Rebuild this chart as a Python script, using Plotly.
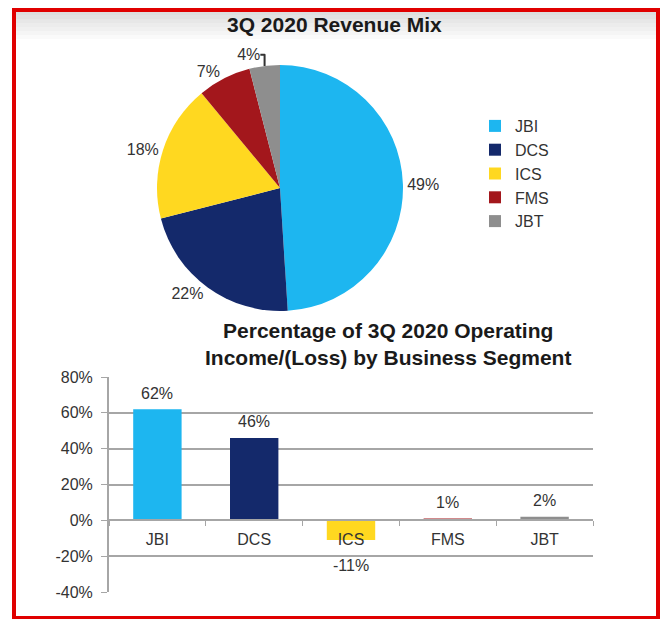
import plotly.graph_objects as go

segments = ["JBI", "DCS", "ICS", "FMS", "JBT"]
revenue_mix = [49, 22, 18, 7, 4]          # % of 3Q 2020 revenue
op_income = [62, 46, -11, 1, 2]           # % of 3Q 2020 operating income/(loss)
y_ticks = [-40, -20, 0, 20, 40, 60, 80]
y_tick_text = [f"{v}%" for v in y_ticks]

colors = ["#1DB6F0", "#14296B", "#FFD820", "#A3171C", "#8E8E8E"]
font_family = "Liberation Sans, Arial, sans-serif"
text_color = "#333333"

# page body adds an 8px margin, so the figure is drawn 16px smaller
OFF = 8
W, H = 669 - 2 * OFF, 627 - 2 * OFF

def px(x):
    return (x - OFF) / W

def py(y):
    return 1 - (y - OFF) / H

fig = go.Figure()

# --- Pie: revenue mix ---
fig.add_trace(go.Pie(
    labels=segments, values=revenue_mix,
    marker=dict(colors=colors),
    sort=False, direction="clockwise", rotation=0,
    textposition="outside", texttemplate="%{value}%",
    textfont=dict(size=16, color=text_color),
    domain=dict(x=[px(157), px(403)], y=[py(311), py(65)]),
    hoverinfo="label+value",
))

# --- Bars: operating income share ---
fig.add_trace(go.Bar(
    x=segments, y=op_income,
    marker=dict(color=colors, line=dict(width=0)),
    width=0.5, showlegend=False,
    hovertemplate="%{x}: %{y}%<extra></extra>",
))

# value labels above positive bars, below negative ones
for seg, v in zip(segments, op_income):
    fig.add_annotation(
        x=seg, y=v, xref="x", yref="y",
        text=f"{v}%", showarrow=False,
        yanchor="middle", yshift=16 if v >= 0 else -25,
        font=dict(size=16, color=text_color),
    )

y_range = [y_ticks[0], y_ticks[-1]]
bar_dom = [py(592), py(377)]
zero_pos = bar_dom[0] + (0 - y_range[0]) / (y_range[1] - y_range[0]) * (bar_dom[1] - bar_dom[0])

grid = "#A6A6A6"

fig.update_layout(
    width=W, height=H, autosize=False,
    margin=dict(l=0, r=0, t=0, b=0, pad=0),
    paper_bgcolor="white", plot_bgcolor="white",
    font=dict(family=font_family, color=text_color),
    xaxis=dict(
        domain=[px(109), px(593)], anchor="free", position=zero_pos,
        showline=True, linecolor=grid, linewidth=2,
        ticks="outside", tickson="boundaries", ticklen=5, tickcolor=grid,
        ticklabelstandoff=4,
        tickfont=dict(size=16, color=text_color), showgrid=False,
        automargin=False, fixedrange=True,
    ),
    yaxis=dict(
        domain=bar_dom, range=y_range,
        tickmode="array", tickvals=y_ticks, ticktext=y_tick_text,
        showgrid=True, gridcolor=grid, gridwidth=2,
        showline=True, linecolor=grid, linewidth=2, zeroline=False,
        ticks="outside", ticklen=6, tickcolor=grid, ticklabelstandoff=5,
        tickfont=dict(size=16, color=text_color),
        automargin=False, fixedrange=True,
    ),
    legend=dict(
        x=px(475), y=py(109), xanchor="left", yanchor="top",
        font=dict(size=16, color=text_color), tracegroupgap=0,
        bgcolor="rgba(0,0,0,0)",
    ),
    showlegend=True,
)

# Titles
fig.add_annotation(
    x=px(335), y=py(24), xref="paper", yref="paper",
    xanchor="center", yanchor="middle",
    text="<b>3Q 2020 Revenue Mix</b>", showarrow=False,
    font=dict(size=21, color="#1A1A1A"),
)
fig.add_annotation(
    x=px(388), y=py(344), xref="paper", yref="paper",
    xanchor="center", yanchor="middle",
    text="<b>Percentage of 3Q 2020 Operating<br>Income/(Loss) by Business Segment</b>",
    showarrow=False, font=dict(size=21, color="#1A1A1A"),
)

# Light gray header gradient inside the frame
steps = 8
for i in range(steps):
    g = 222 + int(33 * i / (steps - 1))
    fig.add_shape(
        type="rect", xref="paper", yref="paper", layer="below",
        x0=px(14), x1=px(658), y0=py(11 + 4 * (i + 1)), y1=py(11 + 4 * i),
        line=dict(width=0), fillcolor=f"rgb({g},{g},{g})",
    )

# Red frame
fig.add_shape(
    type="rect", xref="paper", yref="paper",
    x0=px(14), x1=px(658), y0=py(618), y1=py(10),
    line=dict(color="#E00000", width=4),
)

fig.write_html("out.html")
